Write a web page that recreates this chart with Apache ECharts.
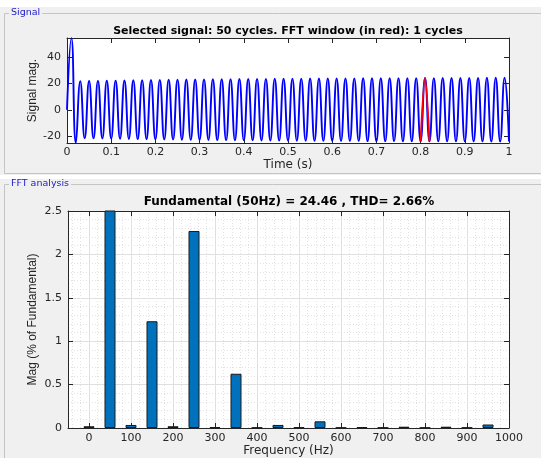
<!DOCTYPE html>
<html>
<head>
<meta charset="utf-8">
<script src="https://cdn.jsdelivr.net/npm/echarts@6/dist/echarts.min.js"></script>
<style>
  html, body { margin: 0; padding: 0; background: #fff; }
  #chart { width: 541px; height: 458px; }
</style>
</head>
<body>
<div id="chart"></div>
<script>
// signal: value at t=0, then one peak and one trough per 20 ms cycle
var signalStart = 0;
var cyclePeaks = [54.5, 21.8, 21.9, 22.0, 22.1, 22.2, 22.3, 22.4, 22.5, 22.6,
                  22.7, 22.8, 22.9, 23.0, 23.0, 23.1, 23.2, 23.2, 23.3, 23.4,
                  23.4, 23.5, 23.5, 23.6, 23.6, 23.7, 23.7, 23.8, 23.8, 23.8,
                  23.9, 23.9, 23.9, 24.0, 24.0, 24.0, 24.0, 24.1, 24.1, 24.1,
                  24.2, 24.1, 24.2, 24.2, 24.2, 24.2, 24.2, 24.3, 24.3, 24.3];
var cycleTroughs = [-25.3, -21.7, -21.8, -21.9, -22.0, -22.1, -22.2, -22.3, -22.4, -22.5,
                    -22.6, -22.7, -22.8, -22.9, -22.9, -23.0, -23.1, -23.1, -23.2, -23.3,
                    -23.3, -23.4, -23.4, -23.5, -23.5, -23.6, -23.6, -23.7, -23.7, -23.7,
                    -23.8, -23.8, -23.8, -23.9, -23.9, -23.9, -23.9, -24.0, -24.0, -24.0,
                    -24.0, -24.0, -24.1, -24.1, -24.1, -24.1, -24.1, -24.2, -24.2, -24.2];
var cycleLen = 0.02;
var fftCycle = 40;   // cycle 0.80 .. 0.82 s drawn in red

// FFT bars, % of fundamental
var fftFreq = [0, 50, 100, 150, 200, 250, 300, 350, 400, 450,
               500, 550, 600, 650, 700, 750, 800, 850, 900, 950];
var fftMag = [0.02, 100, 0.035, 1.23, 0.02, 2.27, 0.01, 0.625, 0.005, 0.035,
              0.008, 0.077, 0.005, 0.01, 0.005, 0.015, 0.005, 0.015, 0.005, 0.04];

var signalTitle = 'Selected signal: 50 cycles. FFT window (in red): 1 cycles';
var fftTitle = 'Fundamental (50Hz) = 24.46 , THD= 2.66%';

var sig = [[0, signalStart]];
for (var i = 0; i < cyclePeaks.length; i++) {
    sig.push([+(cycleLen * i + cycleLen / 2).toFixed(3), cyclePeaks[i]]);
    sig.push([+(cycleLen * (i + 1)).toFixed(3), cycleTroughs[i]]);
}
// red window: trough before, peak, trough after
var red = [sig[2 * fftCycle], sig[2 * fftCycle + 1], sig[2 * fftCycle + 2]];

var bars = [];
for (var j = 0; j < fftFreq.length; j++) bars.push([fftFreq[j], fftMag[j]]);

var txt = '#262626';
var fontFam = 'Liberation Sans, Arial, sans-serif';
var wideFam = 'DejaVu Sans, sans-serif';   // screenshot is a bit stretched sideways
var plain = function (v) { return String(v); };

function boxAxis(extra) {
    var a = {
        axisLine: { show: true, onZero: false, lineStyle: { color: txt, width: 1 } },
        axisTick: { show: true, inside: true, length: 5, lineStyle: { color: txt } },
        axisLabel: { color: txt, fontSize: 11, fontFamily: wideFam, showMinLabel: false, showMaxLabel: false },
        splitLine: { show: false }
    };
    for (var k in extra) a[k] = extra[k];
    return a;
}

var chart = echarts.init(document.getElementById('chart'));
chart.setOption({
    backgroundColor: '#ffffff',
    animation: false,
    textStyle: { fontFamily: fontFam },
    graphic: [
        { type: 'rect', z: -10, shape: { x: 0, y: 7, width: 541, height: 168 }, style: { fill: '#f0f0f0' } },
        { type: 'rect', z: -10, shape: { x: 0, y: 179, width: 541, height: 279 }, style: { fill: '#f0f0f0' } },
        { type: 'polyline', z: -9, shape: { points: [[541, 13.5], [4.5, 13.5], [4.5, 173.5], [541, 173.5]] },
          style: { stroke: '#c4c4c4', fill: null, lineWidth: 1 } },
        { type: 'polyline', z: -9, shape: { points: [[541, 184.5], [4.5, 184.5], [4.5, 458]] },
          style: { stroke: '#c4c4c4', fill: null, lineWidth: 1 } },
        { type: 'text', z: -8, left: 9, top: 8,
          style: { text: 'Signal', fill: '#1a1acc', font: '9.5px ' + wideFam,
                   backgroundColor: '#f0f0f0', padding: [0, 2, 0, 2] } },
        { type: 'text', z: -8, left: 9, top: 179,
          style: { text: 'FFT analysis', fill: '#1a1acc', font: '9.5px ' + wideFam,
                   backgroundColor: '#f0f0f0', padding: [0, 2, 0, 2] } }
    ],
    title: [
        { text: signalTitle, left: 288, top: 26, textAlign: 'center', padding: 0,
          textStyle: { fontSize: 11, fontWeight: 'bold', color: '#000', fontFamily: wideFam } },
        { text: fftTitle, left: 289, top: 196, textAlign: 'center', padding: 0,
          textStyle: { fontSize: 12, fontWeight: 'bold', color: '#000', fontFamily: wideFam } }
    ],
    grid: [
        { left: 67, right: 32, top: 38, height: 105, backgroundColor: '#fff', show: true, borderWidth: 0 },
        { left: 68, right: 32, top: 211, height: 217, backgroundColor: '#fff', show: true, borderWidth: 0 }
    ],
    xAxis: [
        boxAxis({ type: 'value', gridIndex: 0, min: 0, max: 1, interval: 0.1, position: 'bottom',
                  name: 'Time (s)', nameLocation: 'middle', nameGap: 16, nameMoveOverlap: false,
                  nameTextStyle: { color: txt, fontSize: 12, fontFamily: wideFam },
                  axisLabel: { color: txt, fontSize: 11, fontFamily: wideFam, margin: 4, formatter: plain } }),
        boxAxis({ type: 'value', gridIndex: 0, min: 0, max: 1, interval: 0.1, position: 'top',
                  axisLabel: { show: false } }),
        boxAxis({ type: 'value', gridIndex: 1, min: -50, max: 1000, splitNumber: 10, position: 'bottom',
                  name: 'Frequency (Hz)', nameLocation: 'middle', nameGap: 17, nameMoveOverlap: false,
                  nameTextStyle: { color: txt, fontSize: 12, fontFamily: wideFam },
                  axisLabel: { color: txt, fontSize: 11, fontFamily: wideFam, margin: 5, showMinLabel: false,
                               formatter: plain },
                  splitLine: { show: true, lineStyle: { color: '#e0e0e0', width: 1 } },
                  minorSplitLine: { show: true, lineStyle: { color: '#e2e2e2', width: 1, type: [1, 2] } } }),
        boxAxis({ type: 'value', gridIndex: 1, min: -50, max: 1000, splitNumber: 10, position: 'top',
                  axisLabel: { show: false } })
    ],
    yAxis: [
        boxAxis({ type: 'value', gridIndex: 0, min: -25.3, max: 54.6, position: 'left',
                  name: 'Signal mag.', nameLocation: 'middle', nameGap: 28, nameMoveOverlap: false,
                  nameTextStyle: { color: txt, fontSize: 12, fontFamily: fontFam },
                  axisLabel: { color: txt, fontSize: 11, fontFamily: wideFam, margin: 6,
                               showMinLabel: false, showMaxLabel: false } }),
        boxAxis({ type: 'value', gridIndex: 0, min: -25.3, max: 54.6, position: 'right',
                  axisLabel: { show: false } }),
        boxAxis({ type: 'value', gridIndex: 1, min: 0, max: 2.5, interval: 0.5, position: 'left',
                  name: 'Mag (% of Fundamental)', nameLocation: 'middle', nameGap: 29, nameMoveOverlap: false,
                  nameTextStyle: { color: txt, fontSize: 12, fontFamily: fontFam },
                  axisLabel: { color: txt, fontSize: 11, fontFamily: wideFam, margin: 6 },
                  splitLine: { show: true, lineStyle: { color: '#e0e0e0', width: 1 } },
                  minorSplitLine: { show: true, lineStyle: { color: '#e2e2e2', width: 1, type: [1, 2] } } }),
        boxAxis({ type: 'value', gridIndex: 1, min: 0, max: 2.5, interval: 0.5, position: 'right',
                  axisLabel: { show: false } })
    ],
    series: [
        {
            name: 'signal', type: 'line', xAxisIndex: 0, yAxisIndex: 0,
            data: sig, showSymbol: false, smooth: 0.5, clip: true,
            lineStyle: { color: '#0000ff', width: 1.9 }
        },
        {
            name: 'fft window', type: 'line', xAxisIndex: 0, yAxisIndex: 0,
            data: red, showSymbol: false, smooth: 0.3, clip: true,
            lineStyle: { color: '#ff0000', width: 2 }
        },
        {
            name: 'FFT', type: 'bar', xAxisIndex: 2, yAxisIndex: 2,
            data: bars, barWidth: 11, clip: true,
            itemStyle: { color: '#0072bd', borderColor: '#1a1a1a', borderWidth: 1 }
        }
    ]
});
</script>
</body>
</html>
